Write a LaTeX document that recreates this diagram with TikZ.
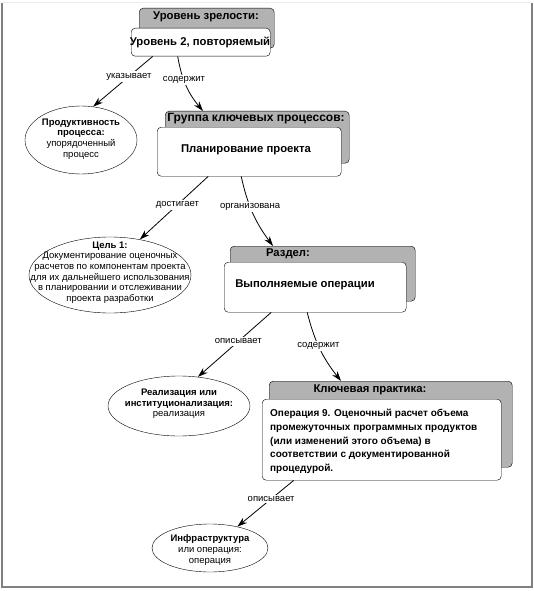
\documentclass[tikz,border=0pt]{standalone}
\usepackage{fontspec}
\setmainfont{Liberation Sans}
\usetikzlibrary{shapes.geometric, arrows.meta, positioning}

\begin{document}
\begin{tikzpicture}[x=1pt, y=-1pt,
    tab/.style={draw, fill=gray!60, rounded corners=4pt, anchor=north west, inner sep=0pt},
    card/.style={draw, fill=white, rounded corners=4pt, anchor=north west, inner sep=0pt},
    head/.style={font=\bfseries\fontsize{11.3}{13}\selectfont, inner sep=0pt},
    body/.style={font=\bfseries\fontsize{10}{13.7}\selectfont, inner sep=0pt},
    goal/.style={draw, fill=white, ellipse, inner sep=0pt},
    gtext/.style={align=center, font=\fontsize{9.5}{10.6}\selectfont, inner sep=0pt},
    rel/.style={-{Stealth[length=10pt, width=6.5pt]}, line width=0.8pt},
    lbl/.style={fill=white, font=\fontsize{9.5}{10}\selectfont, inner sep=1.5pt},
]
    \useasboundingbox (0,0) rectangle (534,591);
    % frame
    \draw[gray!15, line width=1pt] (2,3) -- (532,3);
    \draw[gray, line width=1.2pt] (2,3) -- (2,587) -- (532,587) -- (532,3);

    % maturity level
    \node[tab, minimum width=135, minimum height=40] (lvlT) at (139,8) {};
    \node[card, minimum width=139, minimum height=28] (lvl) at (131,28) {};
    \node[head] (lvlH) at (206,17) {Уровень зрелости:};
    \node[head] (lvlN) at (200,42) {Уровень 2, повторяемый};

    % key process area
    \node[tab, minimum width=184, minimum height=52] (grpT) at (165,111) {};
    \node[card, minimum width=184, minimum height=49] (grp) at (157,127) {};
    \node[head, font=\bfseries\fontsize{12}{13}\selectfont] (grpH) at (256,119) {Группа ключевых процессов:};
    \node[head] (grpN) at (246,150) {Планирование проекта};

    % common feature
    \node[tab, minimum width=185, minimum height=55] (secT) at (230,246) {};
    \node[card, minimum width=182, minimum height=50] (sec) at (224,262) {};
    \node[head] (secH) at (288,254) {Раздел:};
    \node[head] (secN) at (305,285) {Выполняемые операции};

    % key practice
    \node[tab, minimum width=243, minimum height=86] (keyT) at (269,381) {};
    \node[card, minimum width=239, minimum height=81] (key) at (262,399) {};
    \node[head] (keyH) at (370,390) {Ключевая практика:};
    \node[body, align=left, anchor=north west] (keyN) at (270,409)
        {Операция 9. Оценочный расчет объема\\
         промежуточных программных продуктов\\
         (или изменений этого объема) в\\
         соответствии с документированной\\
         процедурой.};

    % ellipses
    \node[goal, minimum width=112, minimum height=68] (prod) at (81,140) {};
    \node[gtext] (prodN) at (81,139) {\textbf{Продуктивность}\\\textbf{процесса:}\\упорядоченный\\процесс};
    \node[goal, minimum width=162, minimum height=76] (aim) at (110,275) {};
    \node[gtext] (aimN) at (110,272.5) {\textbf{Цель 1:}\\Документирование оценочных\\расчетов по компонентам проекта\\для их дальнейшего использования\\в планировании и отслеживании\\проекта разработки};
    \node[goal, minimum width=142, minimum height=60] (impl) at (179,406) {};
    \node[gtext] (implN) at (179,404) {\textbf{Реализация или}\\\textbf{институционализация:}\\реализация};
    \node[goal, minimum width=116, minimum height=48] (infra) at (210,548) {};
    \node[gtext] (infraN) at (210,550) {\textbf{Инфраструктура}\\или операция:\\операция};

    % relations
    \draw[rel] ([xshift=-48]lvl.south) to node[lbl, pos=0.4] (lbA) {указывает} (prod.70);
    \draw[rel] ([xshift=-23]lvl.south) to[bend right=15] node[lbl, pos=0.4] (lbB) {содержит} ([xshift=38]grpT.north west);
    \draw[rel] ([xshift=-41]grp.south) to node[lbl, pos=0.45] (lbC) {достигает} (aim.50);
    \draw[rel] ([xshift=-8]grp.south) to[bend right=12] node[lbl, pos=0.4] (lbD) {организована} ([xshift=43]secT.north west);
    \draw[rel] ([xshift=-44]sec.south) to node[lbl, pos=0.45] (lbE) {описывает} (impl.57);
    \draw[rel] ([xshift=-8]sec.south) to[bend right=12] node[lbl, pos=0.45] (lbF) {содержит} ([xshift=72]keyT.north west);
    \draw[rel] ([xshift=-88]key.south) to node[lbl, pos=0.4] (lbG) {описывает} (infra.38);
\end{tikzpicture}
\end{document}
